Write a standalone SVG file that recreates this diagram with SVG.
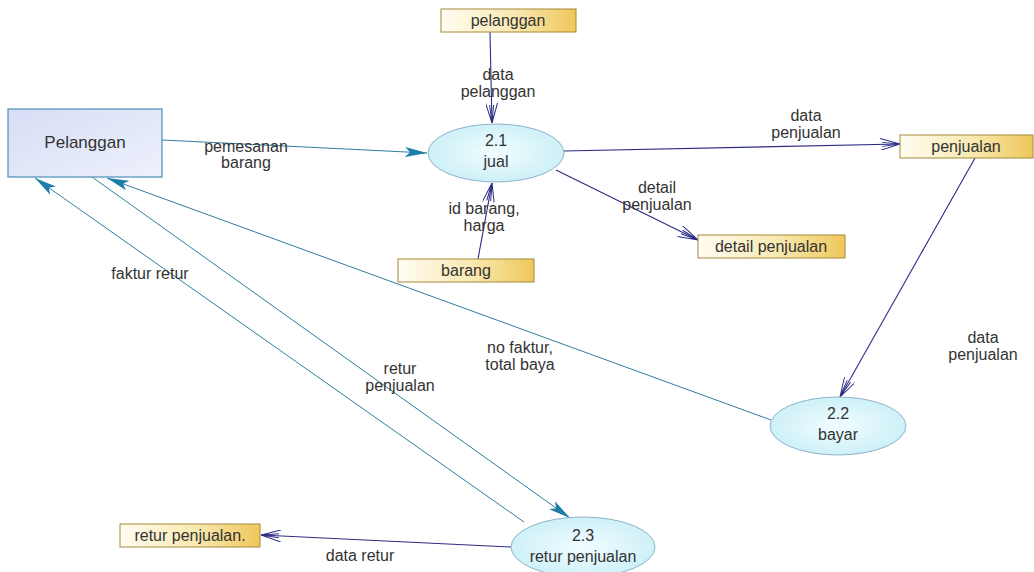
<svg xmlns="http://www.w3.org/2000/svg" width="1034" height="572" viewBox="0 0 1034 572">
<defs>
<linearGradient id="gStore" x1="0" y1="0" x2="1" y2="0">
<stop offset="0" stop-color="#fffdf2"/><stop offset="0.55" stop-color="#f8e8b0"/><stop offset="1" stop-color="#efc75a"/>
</linearGradient>
<linearGradient id="gEnt" x1="0" y1="0" x2="1" y2="1">
<stop offset="0" stop-color="#d6def6"/><stop offset="1" stop-color="#eef1fc"/>
</linearGradient>
<radialGradient id="gProc" cx="0.5" cy="0.5" r="0.6">
<stop offset="0" stop-color="#f2fdff"/><stop offset="1" stop-color="#c6eef6"/>
</radialGradient>
<marker id="open" viewBox="0 0 20 12" refX="20" refY="6" markerWidth="20" markerHeight="12" markerUnits="userSpaceOnUse" orient="auto">
<path d="M0,0 L20,6 L0,12 M2,4 L20,6 M2,8 L20,6" fill="none" stroke="#2b2b85" stroke-width="1"/>
</marker>
<marker id="fill" viewBox="0 0 22 12" refX="22" refY="6" markerWidth="22" markerHeight="12" markerUnits="userSpaceOnUse" orient="auto">
<path d="M0,1 L22,6 L0,11 L5,6 Z" fill="#1c7ea8"/>
</marker>
</defs>
<style>
text{font-family:"Liberation Sans",Arial,sans-serif;font-size:16px;fill:#333;text-anchor:middle}
.store{fill:url(#gStore);stroke:#a38a3a;stroke-width:1}
.ent{fill:url(#gEnt);stroke:#4a90b4;stroke-width:1.2}
.proc{fill:url(#gProc);stroke:#8fb3c9;stroke-width:1}
.dark{fill:none;stroke:#2b2b85;stroke-width:1.1;marker-end:url(#open)}
.teal{fill:none;stroke:#2f7f9e;stroke-width:1;marker-end:url(#fill)}
</style>
<rect width="1034" height="572" fill="#ffffff"/>
<g id="connectors">
<line class="teal" x1="162" y1="140" x2="427" y2="153"/>
<line class="dark" x1="490" y1="32" x2="492" y2="123"/>
<line class="dark" x1="478" y1="259" x2="492" y2="183"/>
<line class="dark" x1="564" y1="151" x2="900" y2="144"/>
<line class="dark" x1="556" y1="170" x2="698" y2="240"/>
<line class="dark" x1="975" y1="158" x2="840" y2="397"/>
<line class="teal" x1="771" y1="420" x2="107" y2="178"/>
<line class="teal" x1="524" y1="522" x2="35" y2="178"/>
<line class="teal" x1="92" y1="177" x2="570" y2="518"/>
<line class="dark" x1="511" y1="547" x2="261" y2="535"/>
<text x="246" y="152">pemesanan</text><text x="246" y="168">barang</text>
<text x="498" y="80">data</text><text x="498" y="97">pelanggan</text>
<text x="484" y="214">id barang,</text><text x="484" y="231">harga</text>
<text x="806" y="121">data</text><text x="806" y="138">penjualan</text>
<text x="657" y="193">detail</text><text x="657" y="210">penjualan</text>
<text x="983" y="343">data</text><text x="983" y="360">penjualan</text>
<text x="520" y="353">no faktur,</text><text x="520" y="370">total baya</text>
<text x="150" y="279">faktur retur</text>
<text x="400" y="374">retur</text><text x="400" y="391">penjualan</text>
<text x="360" y="561">data retur</text>
</g>
<g id="ent-pelanggan"><rect class="ent" x="8" y="109" width="154" height="68"/><text x="85" y="148" style="font-size:17px">Pelanggan</text></g>
<g id="ds-pelanggan"><rect class="store" x="441" y="9" width="135" height="23"/><text x="508" y="26">pelanggan</text></g>
<g id="ds-barang"><rect class="store" x="398" y="259" width="136" height="23"/><text x="466" y="276">barang</text></g>
<g id="ds-penjualan"><rect class="store" x="900" y="135" width="133" height="23"/><text x="966" y="152">penjualan</text></g>
<g id="ds-detail"><rect class="store" x="698" y="235" width="147" height="23"/><text x="771" y="252">detail penjualan</text></g>
<g id="ds-retur"><rect class="store" x="120" y="524" width="140" height="23"/><text x="190" y="541">retur penjualan.</text></g>
<g id="p-jual"><ellipse class="proc" cx="496" cy="153" rx="68" ry="29"/><text x="496" y="146">2.1</text><text x="496" y="167">jual</text></g>
<g id="p-bayar"><ellipse class="proc" cx="838" cy="426" rx="68" ry="29"/><text x="838" y="419">2.2</text><text x="838" y="440">bayar</text></g>
<g id="p-retur"><ellipse class="proc" cx="583" cy="547" rx="72" ry="30"/><text x="583" y="541">2.3</text><text x="583" y="562">retur penjualan</text></g>
</svg>
